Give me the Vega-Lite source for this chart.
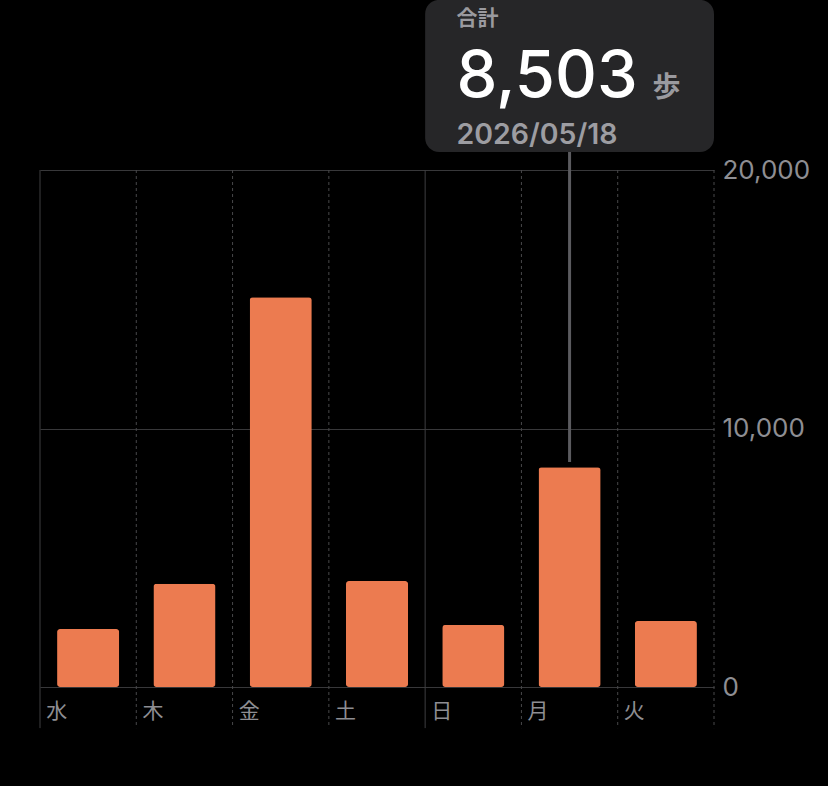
{
  "$schema": "https://vega.github.io/schema/vega-lite/v6.json",
  "width": 674,
  "height": 517,
  "autosize": "none",
  "padding": {"left": 40, "top": 170, "right": 114, "bottom": 99},
  "background": "#000000",
  "config": {"view": {"stroke": null}, "font": "Inter"},
  "datasets": {
    "days": [
      {"day": "水", "steps": 2240},
      {"day": "木", "steps": 3990},
      {"day": "金", "steps": 15080},
      {"day": "土", "steps": 4100},
      {"day": "日", "steps": 2400},
      {"day": "月", "steps": 8503},
      {"day": "火", "steps": 2550}
    ],
    "tip": [
      {"day": "月", "steps": 8503, "label": "合計", "unit": "歩", "date": "2026/05/18"}
    ]
  },
  "data": {"name": "days"},
  "layer": [
    {
      "mark": {"type": "bar", "width": {"band": 0.645}, "cornerRadius": 3, "color": "#EC7B50"},
      "encoding": {
        "x": {"field": "day", "type": "nominal", "sort": null,
          "scale": {"paddingInner": 0, "paddingOuter": 0},
          "axis": {"orient": "bottom", "labelAlign": "left", "labelOffset": -42, "labelBaseline": "top", "labelPadding": 13, "labelFontSize": 21, "labelFont": "Noto Sans CJK JP", "labelColor": "#8e8e93", "domain": false, "ticks": false, "grid": false, "title": null, "labelAngle": 0}},
        "y": {"field": "steps", "type": "quantitative", "scale": {"domain": [0, 20000], "nice": false}, "axis": {"orient": "right", "values": [0, 10000, 20000], "labelExpr": "format(datum.value, ',')", "labelFontSize": 26, "labelColor": "#8e8e93", "labelPadding": 8, "domain": false, "ticks": false, "grid": true, "gridColor": "#38383a", "title": null, "labelFont": "Inter"}}
      }
    },
    {
      "transform": [{"filter": "datum.day === '水' || datum.day === '日'"}],
      "mark": {"type": "rule", "color": "#3e3e40", "strokeWidth": 1},
      "encoding": {
        "x": {"field": "day", "type": "nominal", "sort": null, "bandPosition": 0},
        "y": {"datum": 20000, "type": "quantitative"},
        "y2": {"datum": -1590}
      }
    },
    {
      "transform": [{"filter": "datum.day !== '水' && datum.day !== '日'"}],
      "mark": {"type": "rule", "color": "#48484a", "strokeWidth": 1, "strokeDash": [3, 3]},
      "encoding": {
        "x": {"field": "day", "type": "nominal", "sort": null, "bandPosition": 0},
        "y": {"datum": 20000, "type": "quantitative"},
        "y2": {"datum": -1590}
      }
    },
    {
      "transform": [{"filter": "datum.day === '火'"}],
      "mark": {"type": "rule", "color": "#48484a", "strokeWidth": 1, "strokeDash": [3, 3]},
      "encoding": {
        "x": {"field": "day", "type": "nominal", "sort": null, "bandPosition": 1},
        "y": {"datum": 20000, "type": "quantitative"},
        "y2": {"datum": -1590}
      }
    },
    {
      "data": {"name": "tip"},
      "mark": {"type": "rule", "color": "#5b5b5f", "strokeWidth": 3},
      "encoding": {
        "x": {"field": "day", "type": "nominal", "sort": null},
        "y": {"datum": 20696, "type": "quantitative"},
        "y2": {"datum": 8700}
      }
    },
    {
      "data": {"name": "tip"},
      "mark": {"type": "rect", "width": {"band": 3}, "cornerRadius": 14, "color": "#262628"},
      "encoding": {
        "x": {"field": "day", "type": "nominal", "sort": null},
        "y": {"datum": 20696, "type": "quantitative"},
        "y2": {"datum": 26580}
      }
    },
    {
      "data": {"name": "tip"},
      "mark": {"type": "text", "align": "left", "baseline": "middle", "dx": -65, "fontSize": 21, "fontWeight": "bold", "font": "Noto Sans CJK JP", "color": "#9a9a9f"},
      "encoding": {
        "x": {"field": "day", "type": "nominal", "sort": null, "bandPosition": 0},
        "y": {"datum": 25840, "type": "quantitative"},
        "text": {"field": "label"}
      }
    },
    {
      "data": {"name": "tip"},
      "mark": {"type": "text", "align": "left", "baseline": "alphabetic", "dx": -65, "fontSize": 65, "fontWeight": 500, "font": "Inter", "color": "#ffffff"},
      "encoding": {
        "x": {"field": "day", "type": "nominal", "sort": null, "bandPosition": 0},
        "y": {"datum": 22820, "type": "quantitative"},
        "text": {"field": "steps", "format": ","}
      }
    },
    {
      "data": {"name": "tip"},
      "mark": {"type": "text", "align": "left", "baseline": "alphabetic", "dx": 131, "fontSize": 28, "fontWeight": "bold", "font": "Noto Sans CJK JP", "color": "#9a9a9f"},
      "encoding": {
        "x": {"field": "day", "type": "nominal", "sort": null, "bandPosition": 0},
        "y": {"datum": 22840, "type": "quantitative"},
        "text": {"field": "unit"}
      }
    },
    {
      "data": {"name": "tip"},
      "mark": {"type": "text", "align": "left", "baseline": "alphabetic", "dx": -65, "fontSize": 28.5, "fontWeight": 600, "font": "Inter", "color": "#9d9da2"},
      "encoding": {
        "x": {"field": "day", "type": "nominal", "sort": null, "bandPosition": 0},
        "y": {"datum": 21006, "type": "quantitative"},
        "text": {"field": "date"}
      }
    }
  ]
}
